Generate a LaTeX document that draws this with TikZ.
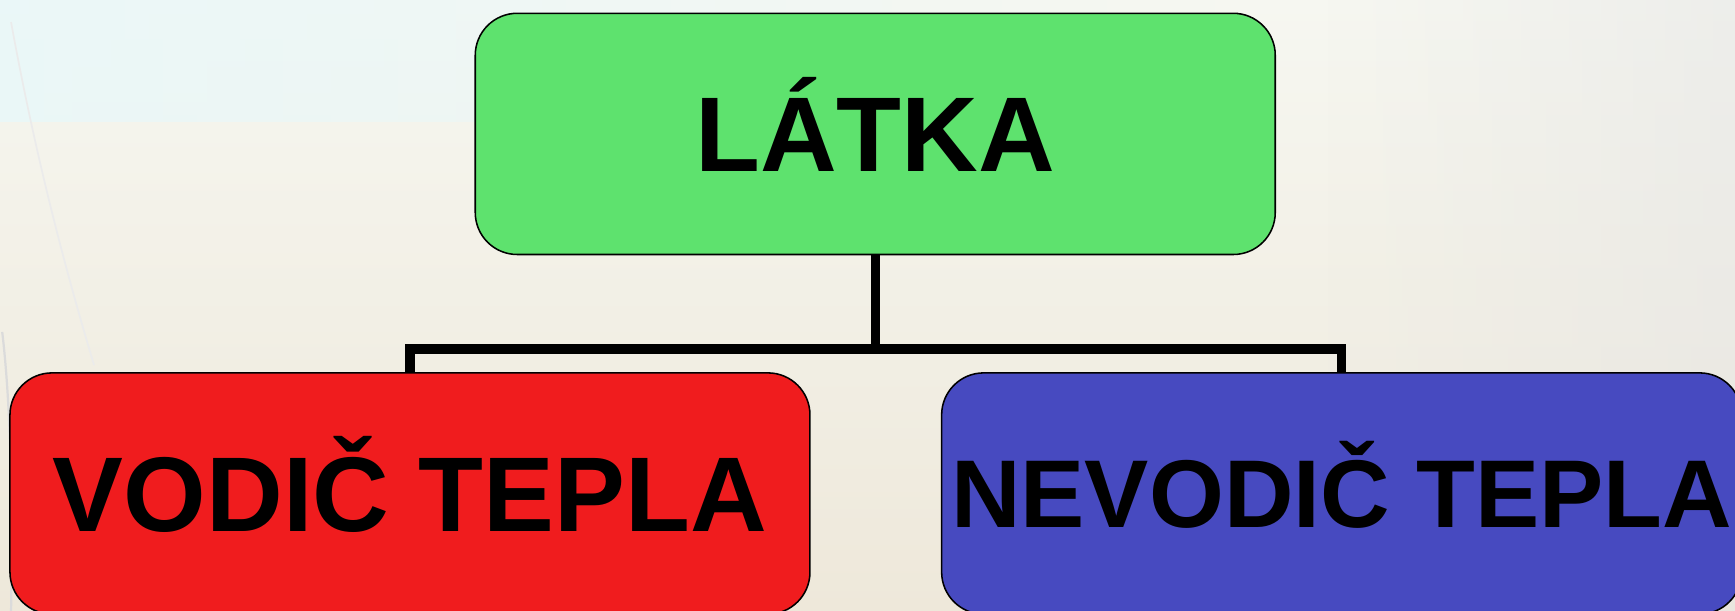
\documentclass[tikz,border=0pt]{standalone}
\usepackage{fontspec}
\setmainfont{Liberation Sans}
\usetikzlibrary{fadings}
\definecolor{boxgreen}{RGB}{94,226,110}
\definecolor{boxred}{RGB}{240,28,30}
\definecolor{boxblue}{RGB}{71,74,192}
\definecolor{bgtop}{RGB}{246,247,241}
\definecolor{bgbot}{RGB}{238,232,218}
\definecolor{bgcyan}{RGB}{232,248,250}
\tikzfading[name=faderight, left color=transparent!0, right color=transparent!100]
\tikzfading[name=fadeleft, left color=transparent!100, right color=transparent!0]
\tikzset{
  card/.style={draw=black, line width=1.4pt, rounded corners=38pt, inner sep=0pt,
    minimum width=723pt, minimum height=218pt, text=black,
    font=\bfseries\fontsize{96}{96}\selectfont, text height=68.7pt, text depth=0pt},
  link/.style={line width=8.5pt, draw=black, line join=miter}
}
\begin{document}
\begin{tikzpicture}[x=1pt,y=-1pt]
\useasboundingbox (0,0) rectangle (1568,552);
% background
\shade[top color=bgtop, bottom color=bgbot] (0,0) rectangle (1568,552);
\fill[bgcyan, opacity=0.8, path fading=faderight] (0,0) rectangle (1100,110);
\fill[black!10, opacity=0.5, path fading=fadeleft] (1200,0) rectangle (1568,552);
\draw[black!8, line width=1.5pt] (10,20) .. controls (30,130) and (55,230) .. (85,330);
\draw[black!14, line width=2pt] (2,300) .. controls (8,350) and (12,430) .. (10,552);
% boxes
\node[card, fill=boxgreen] (latka) at (791,121) {LÁTKA};
\node[card, fill=boxred] (vodic) at (370.5,446) {VODIČ TEPLA};
\node[card, fill=boxblue, font=\bfseries\fontsize{87}{87}\selectfont, text height=62.3pt] (nevodic) at (1212.5,446) {NEVODIČ TEPLA};
% connectors
\coordinate (mid) at (791,315.5);
\draw[link] (latka.south) -- (mid);
\draw[link] (vodic.north) |- (mid) -| (nevodic.north);
\end{tikzpicture}
\end{document}
